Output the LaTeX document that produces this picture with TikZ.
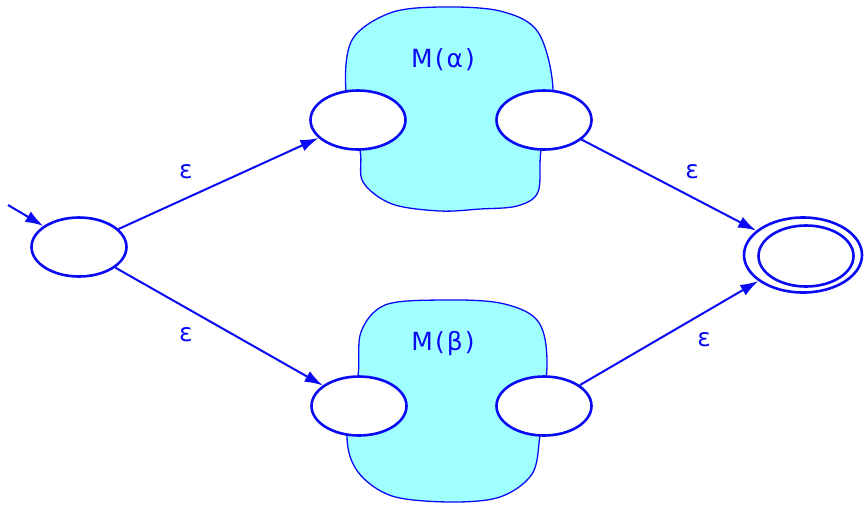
\documentclass[tikz,border=0pt]{standalone}
\usepackage{fontspec}
\setmainfont{DejaVu Sans}
\newfontfamily\labfont[LetterSpace=8]{DejaVu Sans}
\usetikzlibrary{shapes.geometric,arrows.meta}
\definecolor{fgblue}{RGB}{10,10,245}
\definecolor{blobcyan}{RGB}{160,255,255}
\begin{document}
\begin{tikzpicture}[x=1pt,y=-1pt,
  st/.style={ellipse,draw=fgblue,line width=2.6pt,fill=white,minimum width=95pt,minimum height=59pt,inner sep=0pt},
  tr/.style={draw=fgblue,line width=2pt,-{Latex[length=18pt,width=12pt]}},
  blob/.style={draw=fgblue,line width=1.3pt,fill=blobcyan},
  lab/.style={text=fgblue,font=\fontsize{25}{28}\selectfont},
  mlab/.style={text=fgblue,font=\labfont\fontsize{25}{28}\selectfont}]
\useasboundingbox (0,0) rectangle (864,504);
% blobs
\draw[blob] plot[smooth cycle, tension=0.55] coordinates {
  (346,92) (352,40) (390,13) (440,7) (500,11) (538,32) (553,90)
  (541,150) (538,192) (517,206) (480,209) (440,211) (392,204) (363,182) (360,150)};
\draw[blob] plot[smooth cycle, tension=0.55] coordinates {
  (358,376) (361,332) (385,305) (440,300) (500,303) (537,320) (547,360)
  (540,435) (532,474) (500,497) (450,502) (392,496) (358,472) (347,436)};
\node[mlab] (ma) at (443,60) {M(α)};
\node[mlab] (mb) at (443,344) {M(β)};
% states
\node[st] (s) at (79,247) {};
\node[st] (a1) at (358,120) {};
\node[st] (a2) at (544,120) {};
\node[st] (b1) at (359,406) {};
\node[st] (b2) at (544,406) {};
\node[st,minimum width=118pt,minimum height=75pt] (f) at (803,255) {};
\node[st,minimum width=95pt,minimum height=61pt] (fi) at (806,256) {};
\coordinate (in) at (8,205);
% transitions
\draw[tr] (in) -- (s);
\draw[tr] (s) -- (a1);
\draw[tr] (s) -- (b1);
\draw[tr] (a2) -- (f);
\draw[tr] (b2) -- (f);
\node[lab] (e1) at (186,172) {ε};
\node[lab] (e2) at (186,335) {ε};
\node[lab] (e3) at (692,172) {ε};
\node[lab] (e4) at (704,340) {ε};
\end{tikzpicture}
\end{document}
